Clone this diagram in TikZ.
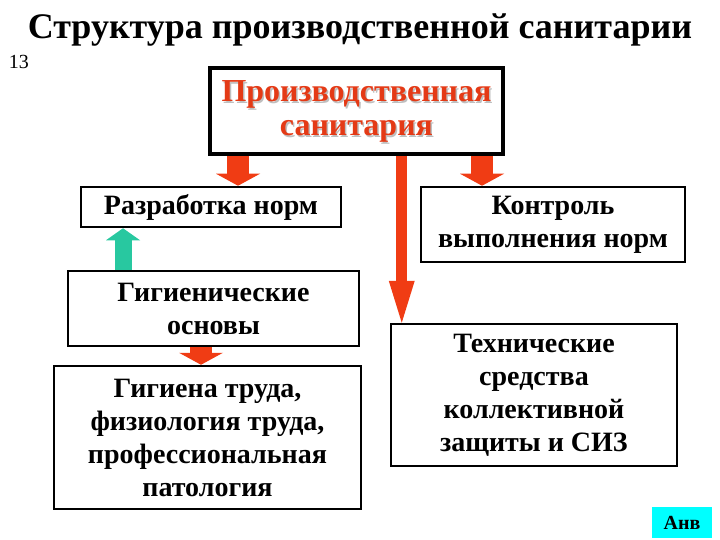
\documentclass[tikz,border=0pt]{standalone}
\usepackage{fontspec}
\setmainfont{Liberation Serif}
\usepackage{xcolor}
\usetikzlibrary{arrows.meta,positioning,calc}

\definecolor{arrowred}{RGB}{240,60,20}
\definecolor{arrowgreen}{RGB}{40,200,160}
\definecolor{textred}{RGB}{228,58,22}
\definecolor{labelcyan}{RGB}{0,255,255}

\begin{document}
\begin{tikzpicture}[x=1pt, y=-1pt,
  box/.style={draw, line width=2.5pt, align=center, inner sep=0pt,
    font=\fontsize{28}{33}\selectfont\bfseries},
  redarrow/.style={arrowred, line width=22pt,
    -{Triangle[length=12pt, width=44pt, line width=0pt]}},
  greenarrow/.style={arrowgreen, line width=17pt,
    -{Triangle[length=12pt, width=34pt, line width=0pt]}}]
\useasboundingbox (0,0) rectangle (720,540);

% Title and page number
\node[font=\fontsize{36}{40}\selectfont\bfseries] (title) at (360,30) {Структура производственной санитарии};
\node[font=\fontsize{20}{22}\selectfont] (pagenum) at (19,62) {13};

% Main box (red text with a grey shadow)
\node[align=center, text=gray!50, font=\fontsize{32}{34}\selectfont\bfseries] (prodshadow) at (358,113) {Производственная\\санитария};
\node[box, line width=4.5pt, minimum width=293pt, minimum height=86pt, text=textred,
  font=\fontsize{32}{34}\selectfont\bfseries] (prod) at (356.5,111) {Производственная\\санитария};

% Left branch
\node[box, minimum width=260pt, minimum height=40pt] (razr) at (211,207) {Разработка норм};
\node[box, minimum width=291pt, minimum height=75pt] (gig) at (213.5,308.5) {Гигиенические\\основы};
\node[box, minimum width=307pt, minimum height=143pt] (gtrud) at (207.5,437.5) {Гигиена труда,\\физиология труда,\\профессиональная\\патология};

% Right branch
\node[box, minimum width=264pt, minimum height=75pt] (kontr) at (553,224.5) {Контроль\\выполнения норм};
\node[box, minimum width=286pt, minimum height=142pt] (tech) at (534,395) {Технические\\средства\\коллективной\\защиты и СИЗ};

% Corner label
\node[fill=labelcyan, minimum width=60pt, minimum height=31pt, inner sep=0pt,
  font=\fontsize{20}{22}\selectfont\bfseries] (anv) at (682,522.5) {Анв};

% Block arrows
\draw[redarrow] ([xshift=27pt]razr.north |- prod.south) -- ([xshift=27pt]razr.north);
\draw[redarrow] ([xshift=-71pt]kontr.north |- prod.south) -- ([xshift=-71pt]kontr.north);
\draw[arrowred, line width=11pt, -{Triangle[length=42pt, width=26pt, line width=0pt]}]
  ([xshift=12pt]tech.north west |- prod.south) -- ([xshift=12pt]tech.north west);
\draw[greenarrow] ([xshift=-90.5pt]gig.north) -- ([xshift=-90.5pt]gig.north |- razr.south);
\draw[redarrow] ([xshift=-12.5pt]gig.south) -- ([xshift=-12.5pt]gig.south |- gtrud.north);
\end{tikzpicture}
\end{document}
